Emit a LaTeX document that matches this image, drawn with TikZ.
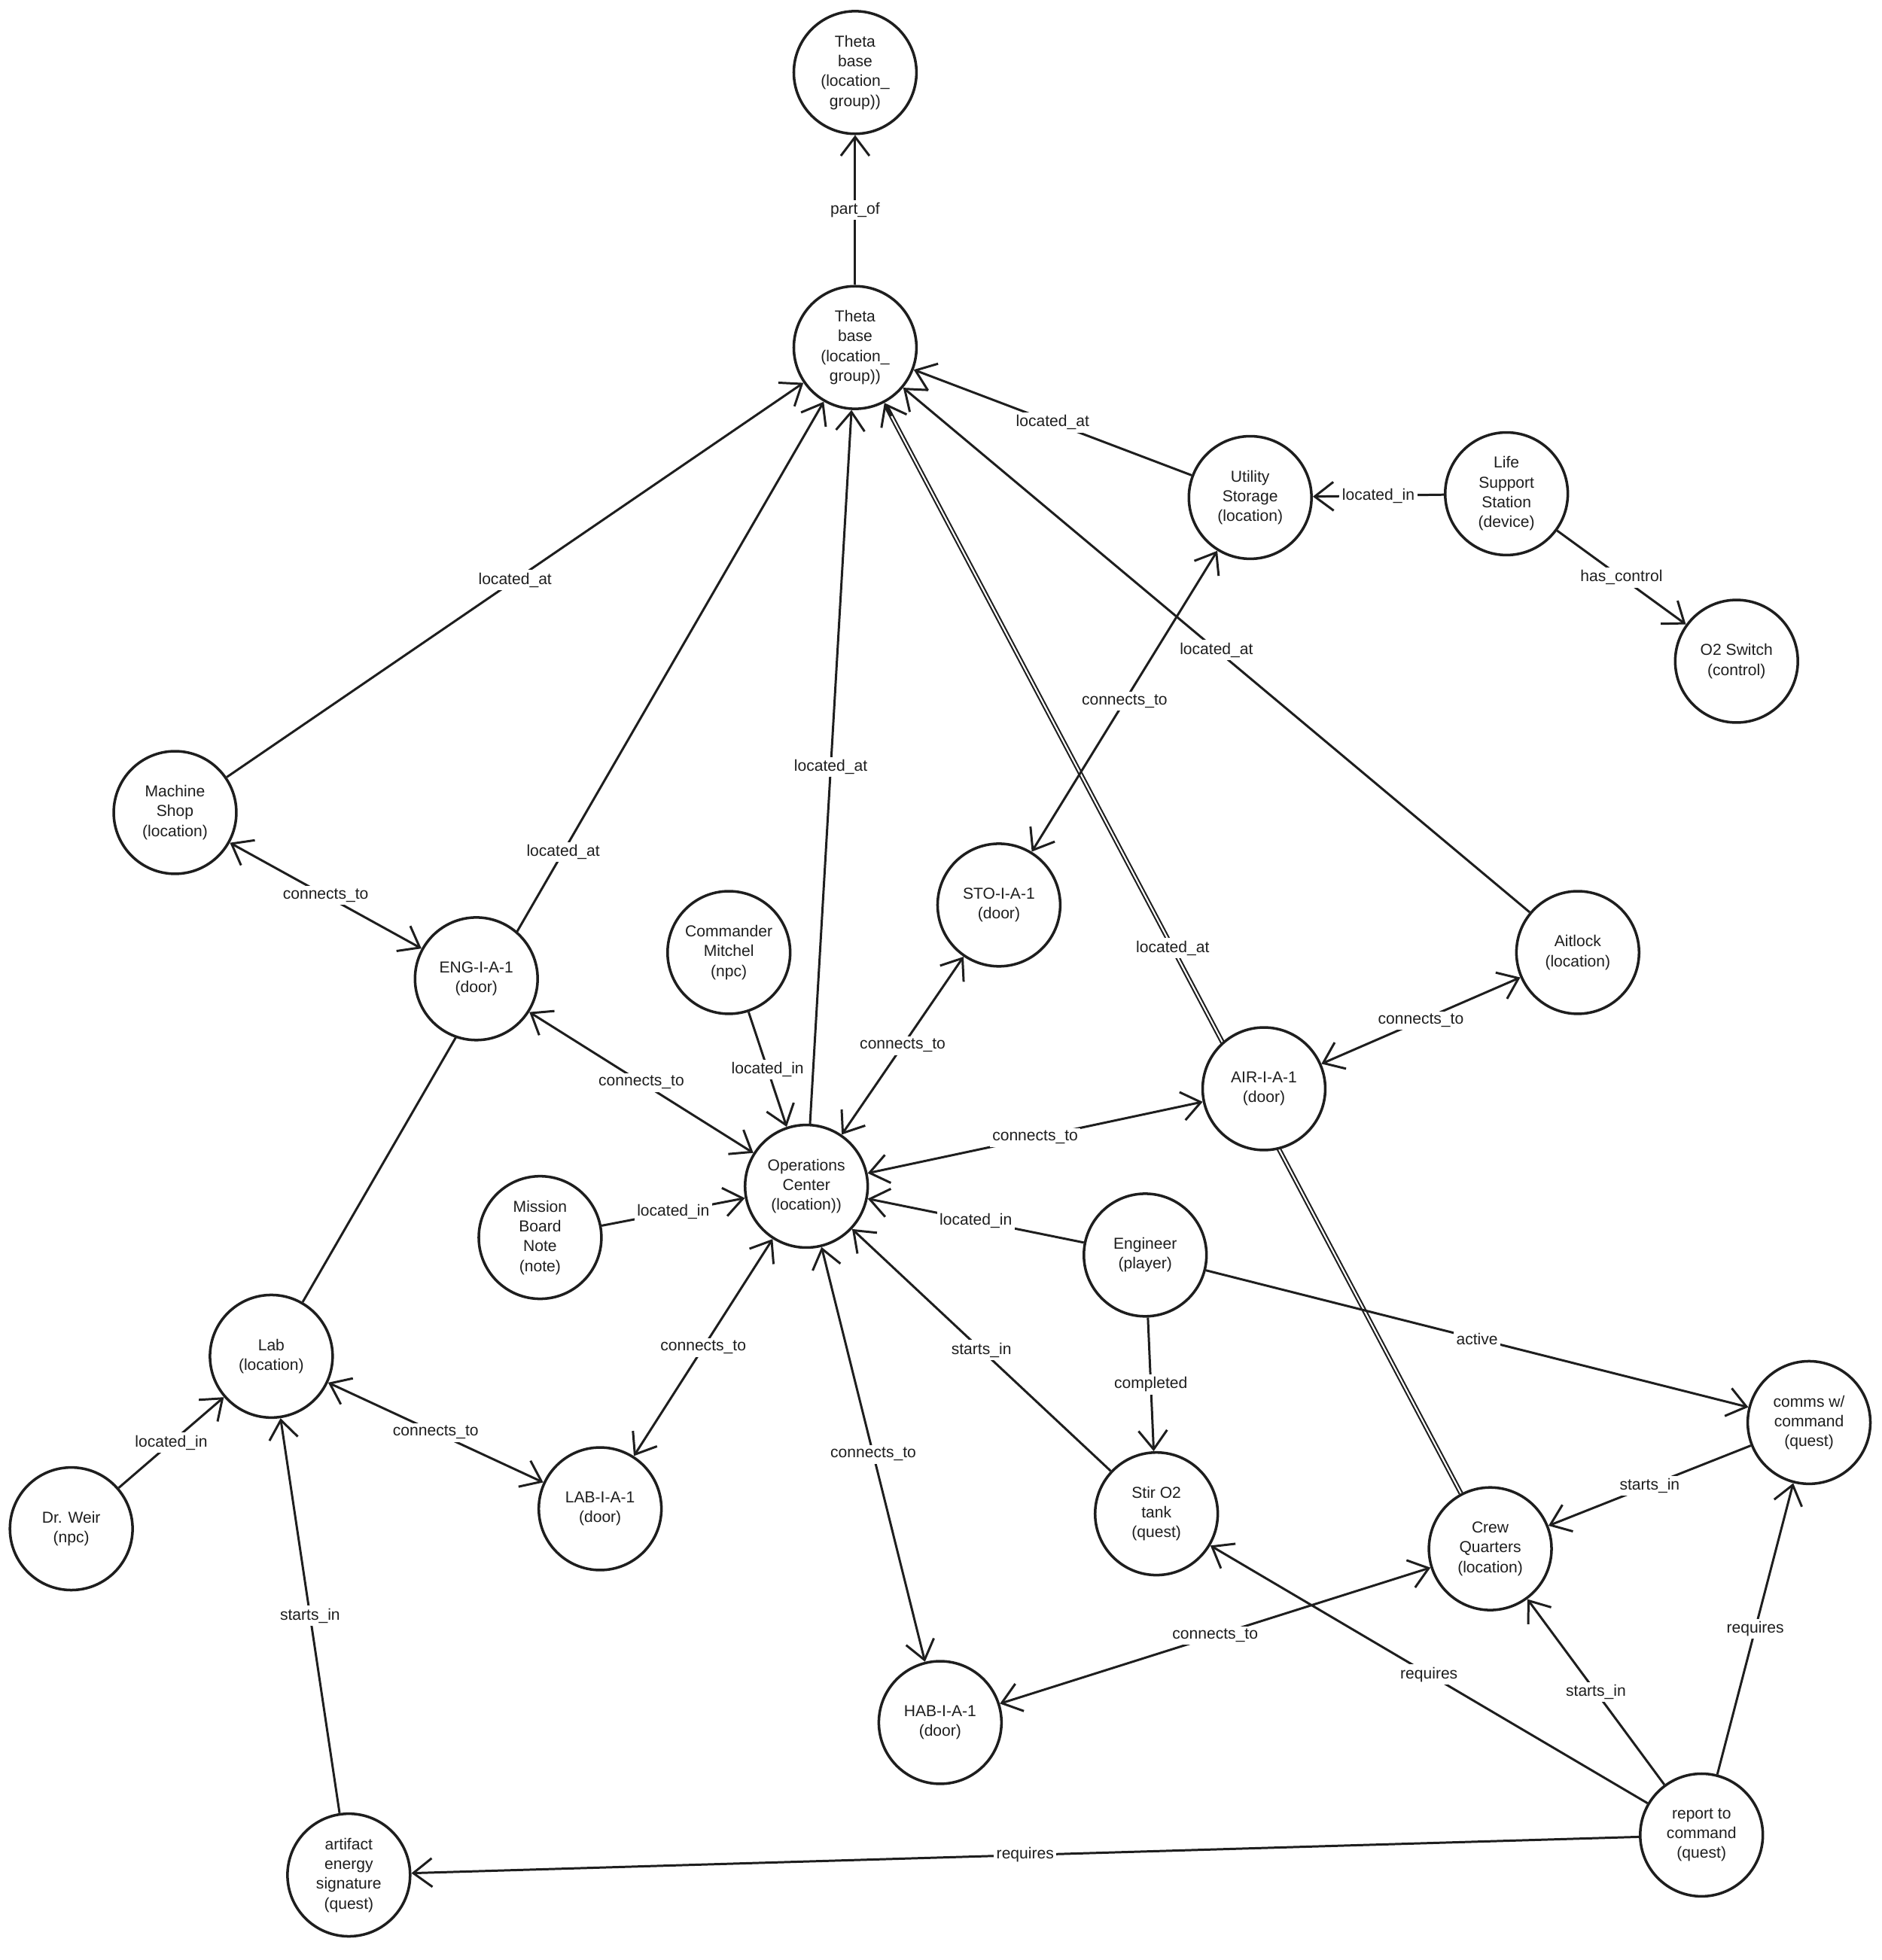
\documentclass[tikz,border=0pt]{standalone}
\usepackage{fontspec}
\setmainfont{Liberation Sans}
\usetikzlibrary{arrows.meta,backgrounds}
\definecolor{ink}{HTML}{1E1E1E}
\begin{document}
\begin{tikzpicture}[x=0.016611cm,y=-0.016611cm,
  ent/.style={circle,draw=ink,line width=1pt,fill=white,minimum size=1.63cm,inner sep=0pt,align=center,text=ink,font=\fontsize{6}{7.5}\selectfont},
  rel/.style={draw=ink,line width=0.85pt},
  tip/.tip={Straight Barb[length=2.5mm,width=3.8mm,line width=0.85pt]},
  one/.style={rel,-tip},
  two/.style={rel,tip-tip},
  twin/.style={draw=ink,line width=1.8pt,-tip},
  gap/.style={draw=white,line width=0.6pt},
  lbl/.style={fill=white,inner sep=1pt,text=ink,font=\fontsize{6}{7}\selectfont,midway}]
\useasboundingbox (0,0) rectangle (1505,1568);

\node[ent] (thetaT) at (684,58) {Theta\\base\\(location\_\\group))};
\node[ent] (theta) at (684,278) {Theta\\base\\(location\_\\group))};
\node[ent] (util) at (1000,398) {Utility\\Storage\\(location)};
\node[ent] (life) at (1205,395) {Life\\Support\\Station\\(device)};
\node[ent] (otwo) at (1389,529) {O2 Switch\\(control)};
\node[ent] (mach) at (140,650) {Machine\\Shop\\(location)};
\node[ent] (engd) at (381,783) {ENG-I-A-1\\(door)};
\node[ent] (cmd) at (583,762) {Commander\\Mitchel\\(npc)};
\node[ent] (stod) at (799,724) {STO-I-A-1\\(door)};
\node[ent] (airlock) at (1262,762) {Aitlock\\(location)};
\node[ent] (aird) at (1011,871) {AIR-I-A-1\\(door)};
\node[ent] (ops) at (645,949) {Operations\\Center\\(location))};
\node[ent] (mission) at (432,990) {Mission\\Board\\Note\\(note)};
\node[ent] (player) at (916,1004) {Engineer\\(player)};
\node[ent] (lab) at (217,1085) {Lab\\(location)};
\node[ent] (weir) at (57,1223) {Dr. Weir\\(npc)};
\node[ent] (labd) at (480,1207) {LAB-I-A-1\\(door)};
\node[ent] (stir) at (925,1211) {Stir O2\\tank\\(quest)};
\node[ent] (comms) at (1447,1138) {comms w/\\command\\(quest)};
\node[ent] (crew) at (1192,1239) {Crew\\Quarters\\(location)};
\node[ent] (habd) at (752,1378) {HAB-I-A-1\\(door)};
\node[ent] (art) at (279,1500) {artifact\\energy\\signature\\(quest)};
\node[ent] (report) at (1361,1468) {report to\\command\\(quest)};

\begin{scope}[on background layer]
\draw[twin] (crew) -- (theta);
\draw[gap,shorten >=2mm] (crew) -- (theta);
\path (crew) -- node[lbl]{located\_at} (theta);
\draw[one] (theta) -- node[lbl]{part\_of} (thetaT);
\draw[one] (mach) -- node[lbl]{located\_at} (theta);
\draw[one] (lab) -- node[lbl]{located\_at} (theta);
\draw[one] (ops) -- node[lbl]{located\_at} (theta);
\draw[one] (util) -- node[lbl]{located\_at} (theta);
\draw[one] (airlock) -- node[lbl]{located\_at} (theta);
\draw[one] (life) -- node[lbl]{located\_in} (util);
\draw[one] (life) -- node[lbl]{has\_control} (otwo);
\draw[two] (util) -- node[lbl]{connects\_to} (stod);
\draw[two] (mach) -- node[lbl]{connects\_to} (engd);
\draw[two] (engd) -- node[lbl]{connects\_to} (ops);
\draw[one] (cmd) -- node[lbl]{located\_in} (ops);
\draw[two] (stod) -- node[lbl]{connects\_to} (ops);
\draw[two] (aird) -- node[lbl]{connects\_to} (airlock);
\draw[two] (ops) -- node[lbl]{connects\_to} (aird);
\draw[one] (mission) -- node[lbl]{located\_in} (ops);
\draw[one] (player) -- node[lbl]{located\_in} (ops);
\draw[one] (player) -- node[lbl]{active} (comms);
\draw[one] (player) -- node[lbl]{completed} (stir);
\draw[one] (stir) -- node[lbl]{starts\_in} (ops);
\draw[two] (ops) -- node[lbl]{connects\_to} (labd);
\draw[two] (ops) -- node[lbl]{connects\_to} (habd);
\draw[two] (lab) -- node[lbl]{connects\_to} (labd);
\draw[one] (weir) -- node[lbl]{located\_in} (lab);
\draw[one] (art) -- node[lbl]{starts\_in} (lab);
\draw[one] (comms) -- node[lbl]{starts\_in} (crew);
\draw[two] (crew) -- node[lbl]{connects\_to} (habd);
\draw[one] (report) -- node[lbl]{starts\_in} (crew);
\draw[one] (report) -- node[lbl]{requires} (comms);
\draw[one] (report) -- node[lbl]{requires} (stir);
\draw[one] (report) -- node[lbl]{requires} (art);
\end{scope}
\end{tikzpicture}
\end{document}
